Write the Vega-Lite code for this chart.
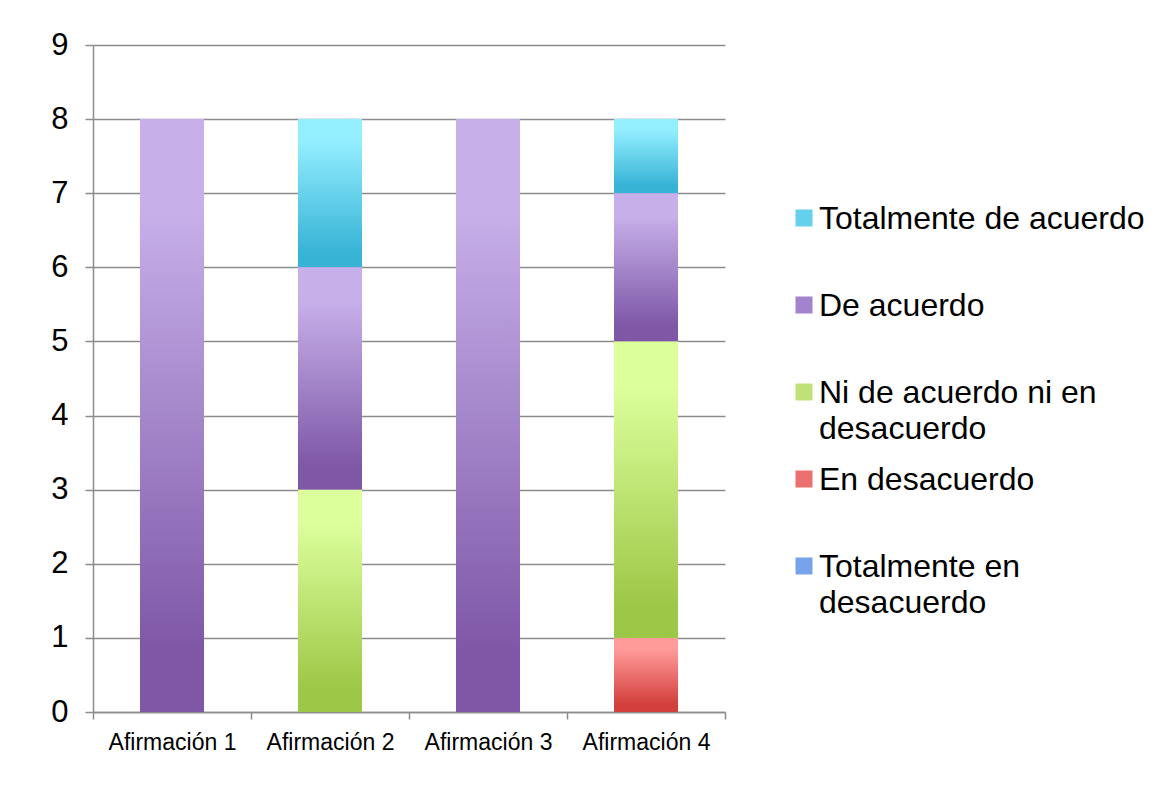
{
  "$schema": "https://vega.github.io/schema/vega-lite/v6.json",
  "width": 632,
  "height": 667,
  "autosize": {"type": "none"},
  "padding": {"left": 93, "top": 45, "right": 445, "bottom": 84},
  "background": "white",
  "config": {
    "font": "Liberation Sans",
    "view": {"stroke": null},
    "axis": {"labelFont": "Liberation Sans", "labelColor": "black", "domainColor": "#8c8c8c", "tickColor": "#8c8c8c", "gridColor": "#8c8c8c", "domainWidth": 1.5, "tickWidth": 1.5, "gridWidth": 1.5}
  },
  "data": {
    "values": [
      {"afirmacion": "Afirmación 1", "serie": "Totalmente en desacuerdo", "orden": 1, "valor": 0},
      {"afirmacion": "Afirmación 1", "serie": "En desacuerdo", "orden": 2, "valor": 0},
      {"afirmacion": "Afirmación 1", "serie": "Ni de acuerdo ni en desacuerdo", "orden": 3, "valor": 0},
      {"afirmacion": "Afirmación 1", "serie": "De acuerdo", "orden": 4, "valor": 8},
      {"afirmacion": "Afirmación 1", "serie": "Totalmente de acuerdo", "orden": 5, "valor": 0},
      {"afirmacion": "Afirmación 2", "serie": "Totalmente en desacuerdo", "orden": 1, "valor": 0},
      {"afirmacion": "Afirmación 2", "serie": "En desacuerdo", "orden": 2, "valor": 0},
      {"afirmacion": "Afirmación 2", "serie": "Ni de acuerdo ni en desacuerdo", "orden": 3, "valor": 3},
      {"afirmacion": "Afirmación 2", "serie": "De acuerdo", "orden": 4, "valor": 3},
      {"afirmacion": "Afirmación 2", "serie": "Totalmente de acuerdo", "orden": 5, "valor": 2},
      {"afirmacion": "Afirmación 3", "serie": "Totalmente en desacuerdo", "orden": 1, "valor": 0},
      {"afirmacion": "Afirmación 3", "serie": "En desacuerdo", "orden": 2, "valor": 0},
      {"afirmacion": "Afirmación 3", "serie": "Ni de acuerdo ni en desacuerdo", "orden": 3, "valor": 0},
      {"afirmacion": "Afirmación 3", "serie": "De acuerdo", "orden": 4, "valor": 8},
      {"afirmacion": "Afirmación 3", "serie": "Totalmente de acuerdo", "orden": 5, "valor": 0},
      {"afirmacion": "Afirmación 4", "serie": "Totalmente en desacuerdo", "orden": 1, "valor": 0},
      {"afirmacion": "Afirmación 4", "serie": "En desacuerdo", "orden": 2, "valor": 1},
      {"afirmacion": "Afirmación 4", "serie": "Ni de acuerdo ni en desacuerdo", "orden": 3, "valor": 4},
      {"afirmacion": "Afirmación 4", "serie": "De acuerdo", "orden": 4, "valor": 2},
      {"afirmacion": "Afirmación 4", "serie": "Totalmente de acuerdo", "orden": 5, "valor": 1}
    ]
  },
  "encoding": {
    "x": {
      "field": "afirmacion", "type": "nominal",
      "scale": {"paddingInner": 0, "paddingOuter": 0},
      "axis": {"title": null, "labelAngle": 0, "labelFontSize": 23, "tickBand": "extent", "tickSize": 7, "labelPadding": 12, "grid": false}
    }
  },
  "layer": [
    {
      "mark": {"type": "bar", "width": {"band": 0.405}, "strokeWidth": 0},
      "encoding": {
        "y": {
          "field": "valor", "type": "quantitative", "stack": "zero",
          "scale": {"domain": [0, 9], "nice": false},
          "axis": {"title": null, "values": [0,1,2,3,4,5,6,7,8,9], "format": "d", "labelFontSize": 31, "tickSize": 8, "labelPadding": 17, "grid": true}
        },
        "order": {"field": "orden", "type": "quantitative"},
        "color": {
          "field": "serie", "type": "nominal",
          "scale": {
            "domain": ["Totalmente de acuerdo", "De acuerdo", "Ni de acuerdo ni en desacuerdo", "En desacuerdo", "Totalmente en desacuerdo"],
            "range": ["#64D0EC", "#A283CC", "#BFE276", "#EC716E", "#76A3EA"]
          },
          "legend": {
            "title": null,
            "orient": "none",
            "legendX": 695,
            "legendY": 157,
            "padding": 0,
            "symbolType": "square",
            "symbolSize": 289,
            "symbolStrokeWidth": 0,
            "symbolOpacity": 1,
            "labelFontSize": 32,
            "labelFont": "Liberation Sans",
            "labelColor": "black",
            "labelLimit": 400,
            "labelOffset": -1,
            "gridAlign": "all",
            "rowPadding": 18,
            "labelExpr": "datum.label == 'Ni de acuerdo ni en desacuerdo' ? ['Ni de acuerdo ni en', 'desacuerdo'] : datum.label == 'Totalmente en desacuerdo' ? ['Totalmente en', 'desacuerdo'] : datum.label",
            "labelBaseline": "top",
            "encode": {
              "labels": {"update": {"lineHeight": {"value": 36}, "dy": {"value": -14}}}
            }
          }
        }
      }
    },
    {
      "transform": [
        {"stack": "valor", "groupby": ["afirmacion"], "sort": [{"field": "orden", "order": "ascending"}], "as": ["y0", "y1"]},
        {"filter": "datum.serie == 'Totalmente de acuerdo' && datum.valor > 0"}
      ],
      "mark": {"type": "bar", "width": {"band": 0.405}, "strokeWidth": 0, "fill": {"gradient": "linear", "x1": 0, "y1": 0, "x2": 0, "y2": 1, "stops": [{"offset": 0, "color": "#93EEFF"}, {"offset": 0.15, "color": "#93EEFF"}, {"offset": 0.9, "color": "#37B3D6"}, {"offset": 1, "color": "#37B3D6"}]}},
      "encoding": {"y": {"field": "y1", "type": "quantitative", "axis": {"title": null}}, "y2": {"field": "y0"}}
    },
    {
      "transform": [
        {"stack": "valor", "groupby": ["afirmacion"], "sort": [{"field": "orden", "order": "ascending"}], "as": ["y0", "y1"]},
        {"filter": "datum.serie == 'De acuerdo' && datum.valor > 0"}
      ],
      "mark": {"type": "bar", "width": {"band": 0.405}, "strokeWidth": 0, "fill": {"gradient": "linear", "x1": 0, "y1": 0, "x2": 0, "y2": 1, "stops": [{"offset": 0, "color": "#C7B0EA"}, {"offset": 0.15, "color": "#C7B0EA"}, {"offset": 0.9, "color": "#7E57A7"}, {"offset": 1, "color": "#7E57A7"}]}},
      "encoding": {"y": {"field": "y1", "type": "quantitative", "axis": {"title": null}}, "y2": {"field": "y0"}}
    },
    {
      "transform": [
        {"stack": "valor", "groupby": ["afirmacion"], "sort": [{"field": "orden", "order": "ascending"}], "as": ["y0", "y1"]},
        {"filter": "datum.serie == 'Ni de acuerdo ni en desacuerdo' && datum.valor > 0"}
      ],
      "mark": {"type": "bar", "width": {"band": 0.405}, "strokeWidth": 0, "fill": {"gradient": "linear", "x1": 0, "y1": 0, "x2": 0, "y2": 1, "stops": [{"offset": 0, "color": "#DCFF9C"}, {"offset": 0.15, "color": "#DCFF9C"}, {"offset": 0.9, "color": "#9DC746"}, {"offset": 1, "color": "#9DC746"}]}},
      "encoding": {"y": {"field": "y1", "type": "quantitative", "axis": {"title": null}}, "y2": {"field": "y0"}}
    },
    {
      "transform": [
        {"stack": "valor", "groupby": ["afirmacion"], "sort": [{"field": "orden", "order": "ascending"}], "as": ["y0", "y1"]},
        {"filter": "datum.serie == 'En desacuerdo' && datum.valor > 0"}
      ],
      "mark": {"type": "bar", "width": {"band": 0.405}, "strokeWidth": 0, "fill": {"gradient": "linear", "x1": 0, "y1": 0, "x2": 0, "y2": 1, "stops": [{"offset": 0, "color": "#FF9B99"}, {"offset": 0.15, "color": "#FF9B99"}, {"offset": 0.9, "color": "#D23F3C"}, {"offset": 1, "color": "#D23F3C"}]}},
      "encoding": {"y": {"field": "y1", "type": "quantitative", "axis": {"title": null}}, "y2": {"field": "y0"}}
    }
  ]
}
